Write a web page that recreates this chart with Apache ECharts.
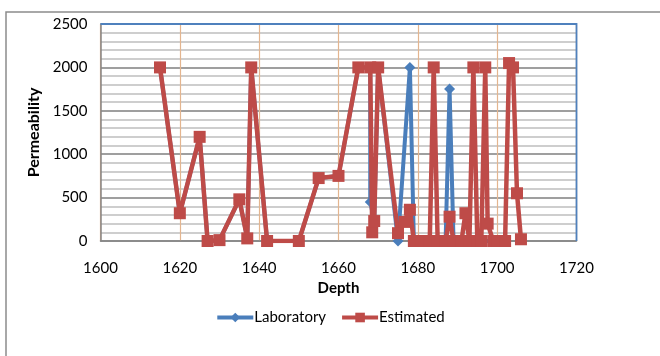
<!DOCTYPE html>
<html>
<head>
<meta charset="utf-8">
<script src="https://cdn.jsdelivr.net/npm/echarts@6/dist/echarts.min.js"></script>
<style>
  html, body { margin: 0; padding: 0; background: #fff; }
  #chart { width: 660px; height: 356px; }
</style>
</head>
<body>
<div id="chart"></div>
<script>
// Permeability vs depth - lab values and estimated values

const depthTicks = [1600, 1620, 1640, 1660, 1680, 1700, 1720];
const permTicks = [0, 500, 1000, 1500, 2000, 2500];

const labDepth = [1615, 1620, 1625, 1627, 1630, 1635, 1637, 1638, 1642, 1650, 1655, 1660, 1665, 1668, 1668, 1669, 1670, 1675, 1678, 1679, 1681, 1683, 1685, 1687, 1688, 1689, 1691, 1693, 1695, 1696, 1699, 1700, 1702];
const labPerm  = [2000, 320, 1200, 0, 10, 480, 30, 2000, 0, 0, 725, 750, 2000, 2000, 450, 230, 2000, 0, 2000, 0, 0, 0, 0, 0, 1750, 0, 0, 0, 0, 0, 0, 0, 0];

const estDepth = [1615, 1620, 1625, 1627, 1630, 1635, 1637, 1638, 1642, 1650, 1655, 1660, 1665, 1668, 1668.5, 1669, 1670, 1675, 1676.7, 1678, 1679, 1681, 1683, 1684, 1685, 1687, 1688, 1689, 1691, 1692, 1693, 1694, 1695, 1696, 1697, 1697.6, 1699, 1700, 1702, 1703, 1704, 1705, 1706];
const estPerm  = [2000, 320, 1200, 0, 10, 480, 30, 2000, 0, 0, 725, 750, 2000, 2000, 100, 230, 2000, 90, 220, 360, 0, 0, 0, 2000, 0, 0, 280, 0, 0, 320, 0, 2000, 0, 0, 2000, 200, 0, 0, 0, 2050, 2000, 550, 20];

const pairs = (xs, ys) => xs.map((x, i) => [x, ys[i]]);

const FONT = 'Lato';
const chart = echarts.init(document.getElementById('chart'));

chart.setOption({
    animation: false,
    backgroundColor: '#fff',
    textStyle: { fontFamily: FONT, color: '#000' },
    graphic: [{
        type: 'rect',
        shape: { x: 6, y: 12, width: 700, height: 400 },
        style: { fill: 'none', stroke: '#8c8c8c', lineWidth: 1.5 },
        silent: true
    }, {
        // plot area border, only top and right show blue
        type: 'polyline',
        shape: { points: [[100.5, 24], [576.5, 24], [576.5, 241]] },
        style: { fill: 'none', stroke: '#4f81bd', lineWidth: 1.8 },
        silent: true,
        z: 10
    }],
    grid: { left: 100.5, right: 83.5, top: 24, bottom: 115 },
    legend: {
        top: 305,
        left: 'center',
        itemWidth: 36,
        itemHeight: 12,
        itemGap: 14,
        lineStyle: { width: 4 },
        textStyle: { fontFamily: FONT, fontSize: 15, color: '#000', padding: [0, 0, 0, -4] },
        data: ['Laboratory', 'Estimated']
    },
    xAxis: {
        type: 'value',
        min: depthTicks[0],
        max: depthTicks[depthTicks.length - 1],
        interval: 20,
        name: 'Depth',
        nameLocation: 'middle',
        nameGap: 33,
        nameTextStyle: { fontFamily: FONT, fontSize: 15, fontWeight: 'bold', color: '#000' },
        axisLine: { lineStyle: { color: '#868686', width: 1.5 } },
        axisTick: { show: false },
        axisLabel: { margin: 20, fontSize: 15, color: '#000', fontFamily: FONT, formatter: v => String(v) },
        splitLine: { show: true, lineStyle: { color: '#e3b58f', width: 1.2 } }
    },
    yAxis: {
        type: 'value',
        min: permTicks[0],
        max: permTicks[permTicks.length - 1],
        interval: 500,
        name: 'Permeability',
        nameLocation: 'middle',
        nameGap: 46,
        nameTextStyle: { fontFamily: FONT, fontSize: 16, fontWeight: 'bold', color: '#000' },
        axisLine: { show: true, lineStyle: { color: '#868686', width: 1.5 } },
        axisTick: { show: false },
        axisLabel: { margin: 13, fontSize: 15, color: '#000', fontFamily: FONT, formatter: v => String(v) },
        splitLine: { show: true, lineStyle: { color: '#7f7f7f', width: 1.5 } },
        minorTick: { show: false, splitNumber: 5 },
        minorSplitLine: { show: true, lineStyle: { color: '#bfbfbf', width: 1.5 } }
    },
    series: [{
        name: 'Laboratory',
        type: 'line',
        data: pairs(labDepth, labPerm),
        symbol: 'diamond',
        symbolSize: 11,
        lineStyle: { color: '#4a7ebb', width: 4 },
        itemStyle: { color: '#4a7ebb' },
        z: 3
    }, {
        name: 'Estimated',
        type: 'line',
        data: pairs(estDepth, estPerm),
        symbol: 'rect',
        symbolSize: 12,
        lineStyle: { color: '#be4b48', width: 4.5 },
        itemStyle: { color: '#be4b48' },
        z: 4
    }]
});
</script>
</body>
</html>
